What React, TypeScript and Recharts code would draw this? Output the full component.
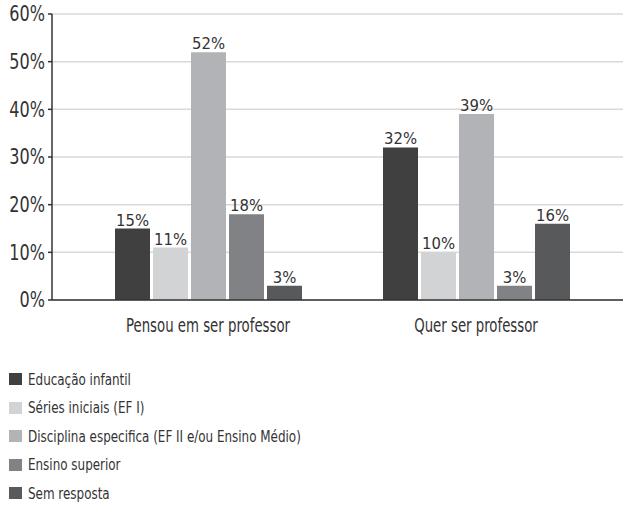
import { BarChart, Bar, XAxis, YAxis, CartesianGrid, LabelList } from 'recharts';

const CATEGORIES = ['Pensou em ser professor', 'Quer ser professor'];

const SERIES_NAMES = [
  'Educação infantil',
  'Séries iniciais (EF I)',
  'Disciplina especifica (EF II e/ou Ensino Médio)',
  'Ensino superior',
  'Sem resposta',
];

const SERIES_COLORS = ['#404041', '#d1d3d4', '#b1b3b6', '#808285', '#58595b'];

// values per series, one per category
const EDUCACAO = [15, 32];
const SERIES_INICIAIS = [11, 10];
const DISCIPLINA = [52, 39];
const SUPERIOR = [18, 3];
const SEM_RESPOSTA = [3, 16];

const Y_TICKS = [0, 10, 20, 30, 40, 50, 60];

const VALUES = [EDUCACAO, SERIES_INICIAIS, DISCIPLINA, SUPERIOR, SEM_RESPOSTA];

const data = CATEGORIES.map((name, i) => {
  const row: Record<string, string | number> = { name };
  VALUES.forEach((v, s) => {
    row[`s${s}`] = v[i];
  });
  return row;
});

const FONT = '"DejaVu Sans Condensed", "DejaVu Sans", sans-serif';
const TEXT = '#333333';

// the original uses a narrow condensed face, so squeeze the text horizontally
const YTick = ({ x, y, payload }: any) => (
  <text
    transform={`translate(${x},${y}) scale(0.87,1)`}
    textAnchor="end"
    dy="0.36em"
    fill={TEXT}
    fontSize={20.5}
    fontFamily={FONT}
  >
    {`${payload.value}%`}
  </text>
);

const XTick = ({ x, y, payload }: any) => (
  <text
    transform={`translate(${x},${y}) scale(0.74,1)`}
    textAnchor="middle"
    dy="0.71em"
    fill={TEXT}
    fontSize={20}
    fontFamily={FONT}
  >
    {payload.value}
  </text>
);

export default function App() {
  return (
    <div style={{ position: 'relative', width: 623, height: 505, fontFamily: FONT, background: '#fff' }}>
      <style>{`body{margin:0}`}</style>
      <BarChart
        width={623}
        height={345}
        data={data}
        margin={{ top: 14, right: 0, bottom: 5, left: 0 }}
        barCategoryGap={40}
        barGap={3}
      >
        <CartesianGrid vertical={false} stroke="#d9d9d9" strokeWidth={1.5} />
        <XAxis
          dataKey="name"
          height={40}
          padding={{ left: 22, right: 13 }}
          tickLine={false}
          tickMargin={12}
          axisLine={{ stroke: '#333333', strokeWidth: 1.5 }}
          tick={<XTick />}
        />
        <YAxis
          width={52}
          domain={[0, 60]}
          ticks={Y_TICKS}
          interval={0}
          tickSize={4}
          tickMargin={3}
          axisLine={{ stroke: '#333333', strokeWidth: 1.5 }}
          tickLine={{ stroke: '#333333', strokeWidth: 1.5 }}
          tick={<YTick />}
        />
        {SERIES_NAMES.map((n, i) => (
          <Bar
            key={n}
            dataKey={`s${i}`}
            name={n}
            fill={SERIES_COLORS[i]}
            barSize={35}
            isAnimationActive={false}
          >
            <LabelList
              dataKey={`s${i}`}
              position="top"
              offset={3}
              formatter={(v: number) => `${v}%`}
              style={{ fill: TEXT, fontSize: 16.5, fontFamily: FONT }}
            />
          </Bar>
        ))}
      </BarChart>
      <div style={{ position: 'absolute', left: 9, top: 365 }}>
        {SERIES_NAMES.map((n, i) => (
          <div key={n} style={{ display: 'flex', alignItems: 'center', height: 28.5, color: TEXT }}>
            <span
              style={{ display: 'inline-block', width: 13, height: 12, background: SERIES_COLORS[i], marginRight: 6 }}
            />
            <span
              style={{
                display: 'inline-block',
                fontSize: 16,
                whiteSpace: 'nowrap',
                transform: 'scaleX(0.83)',
                transformOrigin: 'left center',
              }}
            >
              {n}
            </span>
          </div>
        ))}
      </div>
    </div>
  );
}
